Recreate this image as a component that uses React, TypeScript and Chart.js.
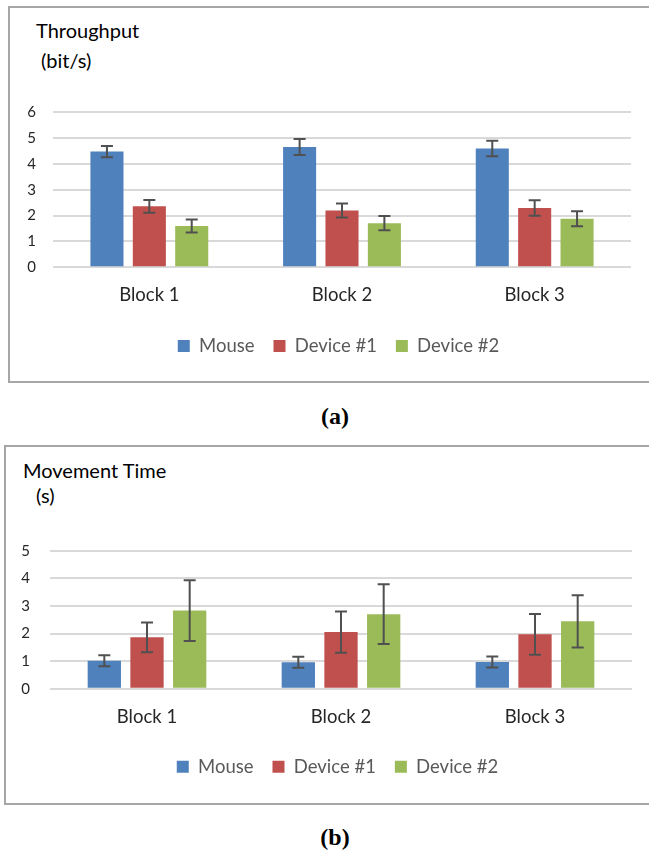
import React, { useEffect, useRef } from "react";
import { Chart, registerables } from "chart.js";

Chart.register(...registerables);

// ---------- data ----------
const categories = ["Block 1", "Block 2", "Block 3"];
const seriesNames = ["Mouse", "Device #1", "Device #2"];
const seriesColors = ["#4F81BD", "#C0504D", "#9BBB59"];

// (a) Throughput (bit/s)
const throughputMouse = [4.48, 4.66, 4.6];
const throughputDevice1 = [2.36, 2.2, 2.3];
const throughputDevice2 = [1.6, 1.71, 1.88];
const throughputMouseErr = [0.22, 0.31, 0.3];
const throughputDevice1Err = [0.25, 0.27, 0.3];
const throughputDevice2Err = [0.25, 0.28, 0.29];
const throughputAxisMax = 6;

// (b) Movement Time (s)
const mtMouse = [1.01, 0.96, 0.97];
const mtDevice1 = [1.86, 2.05, 1.97];
const mtDevice2 = [2.83, 2.7, 2.44];
const mtMouseErr = [0.2, 0.2, 0.2];
const mtDevice1Err = [0.54, 0.75, 0.74];
const mtDevice2Err = [1.1, 1.08, 0.95];
const mtAxisMax = 5;

const FONT = "Lato, 'Open Sans', sans-serif";

const errorBarPlugin = {
  id: "errorBars",
  afterDatasetsDraw(chart: any) {
    const { ctx } = chart;
    const yScale = chart.scales.y;
    ctx.save();
    ctx.strokeStyle = "#505050";
    ctx.lineWidth = 2;
    chart.data.datasets.forEach((ds: any, di: number) => {
      const meta = chart.getDatasetMeta(di);
      meta.data.forEach((bar: any, i: number) => {
        const v = ds.data[i];
        const e = ds.errors[i];
        const x = bar.x;
        const yt = yScale.getPixelForValue(v + e);
        const yb = yScale.getPixelForValue(v - e);
        ctx.beginPath();
        ctx.moveTo(x, yt);
        ctx.lineTo(x, yb);
        ctx.moveTo(x - 6, yt);
        ctx.lineTo(x + 6, yt);
        ctx.moveTo(x - 6, yb);
        ctx.lineTo(x + 6, yb);
        ctx.stroke();
      });
    });
    ctx.restore();
  },
};

type Spec = {
  values: number[][];
  errors: number[][];
  max: number;
  yAxisWidth: number;
  rightWidth: number;
  padTop: number;
  padBottom: number;
  xAxisHeight: number;
  yTickPadding: number;
};

function buildConfig(s: Spec): any {
  return {
    type: "bar",
    data: {
      labels: categories,
      datasets: seriesNames.map((name, i) => ({
        label: name,
        data: s.values[i],
        errors: s.errors[i],
        backgroundColor: seriesColors[i],
        borderWidth: 0,
        categoryPercentage: 0.66,
        barPercentage: 0.78,
      })),
    },
    options: {
      animation: false,
      responsive: false,
      maintainAspectRatio: false,
      layout: { padding: { top: s.padTop, bottom: s.padBottom, left: 0, right: 0 } },
      plugins: {
        tooltip: { enabled: false },
        title: { display: false },
        legend: {
          display: true,
          position: "bottom",
          labels: {
            boxWidth: 12,
            boxHeight: 12,
            padding: 19,
            color: "#595959",
            font: { family: FONT, size: 18.5 },
          },
        },
      },
      scales: {
        x: {
          type: "category",
          grid: { display: false, drawTicks: false },
          border: { display: false },
          ticks: { color: "#262626", font: { family: FONT, size: 18.5 }, padding: 17 },
          afterFit(scale: any) {
            scale.height = s.xAxisHeight;
          },
        },
        y: {
          type: "linear",
          min: 0,
          max: s.max,
          grid: { color: "#D9D9D9", lineWidth: 2, drawTicks: false },
          border: { display: false },
          ticks: {
            stepSize: 1,
            color: "#262626",
            font: { family: FONT, size: 15 },
            padding: s.yTickPadding,
          },
          afterFit(scale: any) {
            scale.width = s.yAxisWidth;
          },
        },
        yRight: {
          type: "linear",
          position: "right",
          display: true,
          min: 0,
          max: 1,
          grid: { display: false, drawTicks: false },
          border: { display: false },
          ticks: { display: false },
          afterFit(scale: any) {
            scale.width = s.rightWidth;
          },
        },
      },
    },
    plugins: [errorBarPlugin],
  };
}

function BarChart(props: { spec: Spec; left: number; top: number; width: number; height: number }) {
  const ref = useRef<HTMLCanvasElement | null>(null);
  useEffect(() => {
    if (!ref.current) return;
    const chart = new Chart(ref.current, buildConfig(props.spec));
    return () => chart.destroy();
  }, []);
  return (
    <canvas
      ref={ref}
      width={props.width}
      height={props.height}
      style={{ position: "absolute", left: props.left, top: props.top, width: props.width, height: props.height }}
    />
  );
}

const specA: Spec = {
  values: [throughputMouse, throughputDevice1, throughputDevice2],
  errors: [throughputMouseErr, throughputDevice1Err, throughputDevice2Err],
  max: throughputAxisMax,
  yAxisWidth: 44,
  rightWidth: 37,
  padTop: 37.3,
  padBottom: 9.75,
  xAxisHeight: 50.45,
  yTickPadding: 17,
};

const specB: Spec = {
  values: [mtMouse, mtDevice1, mtDevice2],
  errors: [mtMouseErr, mtDevice1Err, mtDevice2Err],
  max: mtAxisMax,
  yAxisWidth: 45,
  rightWidth: 38,
  padTop: 40.7,
  padBottom: 14.05,
  xAxisHeight: 49.75,
  yTickPadding: 20,
};

const textStyle = (left: number, top: number, size: number): React.CSSProperties => ({
  position: "absolute",
  left,
  top,
  fontFamily: FONT,
  fontSize: size,
  lineHeight: `${size}px`,
  color: "#000",
  whiteSpace: "nowrap",
});

const captionStyle = (top: number): React.CSSProperties => ({
  position: "absolute",
  left: 0,
  width: 670,
  top,
  textAlign: "center",
  fontFamily: "'Liberation Serif', 'Times New Roman', serif",
  fontWeight: "bold",
  fontSize: 24,
  lineHeight: "24px",
  color: "#000",
});

export default function App() {
  return (
    <div
      style={{
        position: "absolute",
        left: 0,
        top: 0,
        width: 649,
        height: 853,
        overflow: "hidden",
        background: "#fff",
      }}
    >
      {/* frame (a) */}
      <div
        style={{
          position: "absolute",
          left: 8,
          top: 6,
          width: 700,
          height: 377,
          border: "2px solid #A6A6A6",
          boxSizing: "border-box",
        }}
      />
      <div style={textStyle(36, 20, 20)}>Throughput</div>
      <div style={textStyle(41, 50.3, 20)}>(bit/s)</div>
      <BarChart spec={specA} left={9} top={75} width={659} height={300} />
      <div style={captionStyle(404)}>(a)</div>

      {/* frame (b) */}
      <div
        style={{
          position: "absolute",
          left: 4,
          top: 445,
          width: 700,
          height: 360,
          border: "2px solid #A6A6A6",
          boxSizing: "border-box",
        }}
      />
      <div style={textStyle(23, 459.8, 20)}>Movement Time</div>
      <div style={textStyle(36, 485.3, 20)}>(s)</div>
      <BarChart spec={specB} left={5} top={510} width={665} height={290} />
      <div style={captionStyle(825)}>(b)</div>
    </div>
  );
}
